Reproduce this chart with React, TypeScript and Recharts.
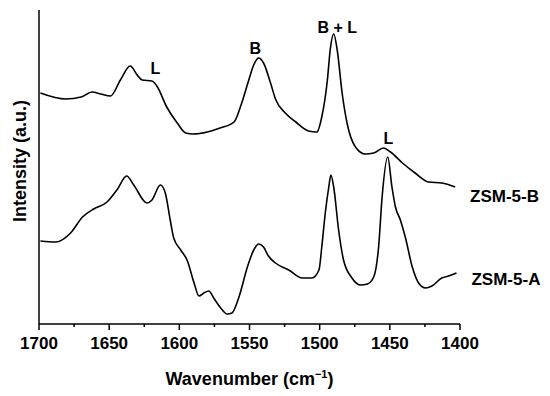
import { LineChart, Line, XAxis, YAxis, ReferenceDot, Label } from 'recharts';

// ZSM-5-B (upper trace)
const wnB = [1699, 1681, 1670, 1662, 1656, 1649, 1642, 1635, 1630, 1626.5, 1619.5, 1616, 1609, 1601.5, 1595.5, 1590, 1580, 1571, 1561, 1556.5, 1550.5, 1547, 1543.5, 1540, 1535, 1531.5, 1524.5, 1517, 1508, 1502, 1498.5, 1494.5, 1492.5, 1490, 1487.5, 1484, 1480.5, 1474.5, 1467.5, 1461.5, 1454.5, 1449.5, 1441, 1432, 1422.5, 1413, 1403.5];
const intB = [231, 225, 227, 232, 230, 228, 244, 258, 249, 244, 243, 238, 217, 201, 191, 190, 192, 196, 202, 217, 244, 259, 266, 261, 241, 225, 211, 202, 193, 192, 207, 244, 274, 290, 274, 231, 201, 177, 170, 171, 176, 172, 161, 151, 142, 141, 137];

// ZSM-5-A (lower trace)
const wnA = [1699, 1688, 1677.5, 1669, 1661, 1651.5, 1644.5, 1637.5, 1632.5, 1623, 1619.5, 1613.5, 1610, 1606.5, 1604, 1599, 1594.5, 1589.5, 1586, 1582.5, 1579, 1575.5, 1570.5, 1566, 1562.5, 1557.5, 1551.5, 1547, 1543.5, 1540, 1536.5, 1531.5, 1522, 1512.5, 1505.5, 1500.5, 1498.5, 1496, 1493.5, 1492, 1490, 1486.5, 1483, 1477, 1471, 1466, 1461.5, 1458, 1455.5, 1451.5, 1448.5, 1446, 1442.5, 1439, 1434, 1429.5, 1424.5, 1420, 1413, 1408, 1402.5];
const intA = [83, 82, 91, 107, 115, 122, 134, 148, 139, 121, 124, 139, 131, 104, 86, 74, 64, 41, 28, 31, 33, 26, 16, 10, 11, 27, 57, 74, 80, 77, 68, 61, 54, 46, 46, 54, 77, 111, 137, 149, 137, 94, 64, 46, 39, 40, 47, 77, 127, 167, 137, 117, 104, 87, 57, 41, 36, 38, 46, 48, 51];

const xTicks = [1400, 1425, 1450, 1475, 1500, 1525, 1550, 1575, 1600, 1625, 1650, 1675, 1700];

// peak annotations
const annoText = ['L', 'B', 'B + L', 'L'];
const annoWn = [1617, 1545.8, 1487.4, 1451];
const annoInt = [256, 276, 297, 186];

const FONT = '"Liberation Sans", Arial, sans-serif';

const dataB = wnB.map((w, i) => ({ w, v: intB[i] }));
const dataA = wnA.map((w, i) => ({ w, v: intA[i] }));

function WnTick({ x, y, payload }: any) {
  const major = payload.value % 50 === 0;
  return (
    <g>
      <line x1={x} x2={x} y1={y} y2={y + (major ? 6 : 3)} stroke="#000" strokeWidth={1.5} />
      {major && (
        <text x={x} y={y + 25} textAnchor="middle" fontSize={17} fontWeight="bold" fontFamily={FONT} fill="#000">
          {payload.value}
        </text>
      )}
    </g>
  );
}

function endLabel(name: string, len: number, dy: number) {
  return (p: any) => {
    if (p.index !== len - 1) return null;
    return (
      <text key={name} x={p.x + 15} y={p.y + dy} fontSize={17} fontWeight="bold" fontFamily={FONT} fill="#000">
        {name}
      </text>
    );
  };
}

export default function App() {
  return (
    <div>
      <style>{'body{margin:0}'}</style>
      <LineChart width={550} height={396} margin={{ top: 10, right: 90, left: 9, bottom: 12 }}>
        <XAxis
          type="number"
          dataKey="w"
          domain={[1400, 1700]}
          reversed
          ticks={xTicks}
          interval={0}
          tick={<WnTick />}
          tickLine={false}
          tickSize={0}
          tickMargin={0}
          height={60}
          axisLine={{ stroke: '#000', strokeWidth: 1.5 }}
          allowDataOverflow
        >
          <Label
            content={({ viewBox }: any) => (
              <text x={viewBox.x + viewBox.width / 2} y={viewBox.y + 61} textAnchor="middle" fontSize={18} fontWeight="bold" fontFamily={FONT} fill="#000">
                Wavenumber (cm
                <tspan dy={-7} fontSize={11}>−1</tspan>
                <tspan dy={7}>)</tspan>
              </text>
            )}
          />
        </XAxis>
        <YAxis
          type="number"
          domain={[0, 314]}
          tick={false}
          tickLine={false}
          width={30}
          axisLine={{ stroke: '#000', strokeWidth: 1.5 }}
          allowDataOverflow
        >
          <Label
            content={({ viewBox }: any) => (
              <text transform={`translate(${viewBox.x + 17},${viewBox.y + viewBox.height / 2 - 6}) rotate(-90)`} textAnchor="middle" fontSize={18} fontWeight="bold" fontFamily={FONT} fill="#000">
                Intensity (a.u.)
              </text>
            )}
          />
        </YAxis>
        <Line data={dataB} dataKey="v" type="monotone" stroke="#000" strokeWidth={1.6} dot={false} isAnimationActive={false} label={endLabel('ZSM-5-B', dataB.length, 15)} />
        <Line data={dataA} dataKey="v" type="monotone" stroke="#000" strokeWidth={1.6} dot={false} isAnimationActive={false} label={endLabel('ZSM-5-A', dataA.length, 12)} />
        {annoText.map((t, i) => (
          <ReferenceDot
            key={t + i}
            x={annoWn[i]}
            y={annoInt[i]}
            r={0}
            fill="none"
            stroke="none"
            ifOverflow="visible"
            label={{ value: t, position: 'center', fontSize: 16, fontWeight: 'bold', fontFamily: FONT, fill: '#000' }}
          />
        ))}
      </LineChart>
    </div>
  );
}
